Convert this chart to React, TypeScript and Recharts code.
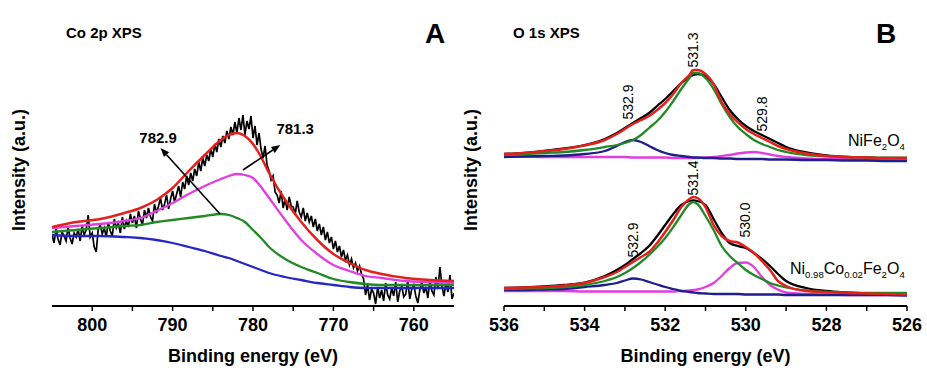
import React from "react";
import { LineChart, Line, XAxis, YAxis, ReferenceLine, ReferenceDot, Label } from "recharts";

const FONT = "'Liberation Sans', Arial, Helvetica, sans-serif";

// ---- Co 2p (panel A) ----
const coFitEnergy = [805, 802, 799, 796, 794, 792, 790, 788, 786, 784, 783, 782, 781, 780, 779, 778, 776, 774, 772, 770, 768, 766, 764, 761, 758, 755];
const coEnvelope = [80, 85, 88, 94, 99, 107, 119, 136, 152, 167, 172, 174, 171, 163, 150, 134, 107, 85, 67, 53, 44, 37, 33, 29, 27, 26];
const coPeak781 = [79, 81, 83, 86, 89, 96, 104, 113, 121, 128, 131, 133, 132, 129, 120, 109, 87, 67, 53, 42, 36, 31, 29, 26, 25, 24];
const coPeak783 = [75, 77, 79, 81, 82, 85, 87, 89, 91, 93, 92, 89, 85, 77, 69, 60, 48, 40, 34, 28, 25, 23, 22, 22, 22, 22];
const coBackground = [72, 71, 71, 70, 69, 67, 64, 60, 56, 51, 49, 46, 43, 40, 37, 34, 30, 27, 24, 22, 20, 19, 19, 19, 19, 19];

// raw spectrum, 805 -> 755 eV every 0.25 eV (one row per eV)
const coRawStart = 805;
const coRawStep = 0.25;
const coRaw = [
  73, 64, 78, 68,
  62, 75, 71, 66,
  80, 69, 63, 74,
  70, 78, 66, 81,
  72, 77, 92, 70,
  74, 60, 55, 78,
  82, 73, 79, 70,
  85, 76, 71, 88,
  79, 84, 74, 90,
  78, 86, 80, 93,
  84, 91, 79, 96,
  88, 82, 97, 89,
  99, 90, 86, 103,
  94, 101, 109, 97,
  103, 112, 98, 108,
  116, 105, 113, 121,
  110, 125, 118, 131,
  122, 134, 126, 138,
  131, 145, 136, 149,
  141, 152, 146, 158,
  150, 163, 155, 168,
  160, 171, 164, 176,
  168, 180, 172, 185,
  174, 189, 177, 192,
  172, 186, 178, 191,
  169, 181, 162, 174,
  158, 149, 161, 142,
  136, 127, 131, 115,
  112, 104, 116, 99,
  108, 97, 110, 101,
  100, 93, 106, 95,
  90, 99, 86, 94,
  85, 91, 80, 88,
  76, 83, 72, 80,
  67, 75, 64, 70,
  58, 66, 55, 61,
  50, 57, 47, 52,
  42, 48, 39, 44,
  36, 41, 33, 28,
  12, 22, 7, 18,
  14, 3, 20, 9,
  17, 6, 24, 12,
  8, 19, 11, 25,
  5, 16, 21, 10,
  13, 26, 8, 18,
  22, 11, 4, 17,
  25, 14, 20, 9,
  27, 16, 12, 30,
  18, 40, 21, 11,
  24, 15, 32, 8,
  14,
];
const coRawEnergy = coRaw.map((_, i) => coRawStart - i * coRawStep);

const coTicks = [800, 795, 790, 785, 780, 775, 770, 765, 760];
const coMajor = [800, 790, 780, 770, 760];

// ---- O 1s (panel B) ----
const oEnergy = [536, 535.5, 535, 534.5, 534, 533.5, 533.2, 533, 532.8, 532.6, 532.4, 532.2, 532, 531.8, 531.6, 531.4, 531.3, 531.2, 531, 530.8, 530.6, 530.4, 530.2, 530, 529.8, 529.6, 529.4, 529.2, 529, 528.5, 528, 527.5, 527, 526.5, 526];

const nfRaw = [153, 154, 156, 158.5, 162, 168, 174, 179, 184, 189, 194, 201, 208, 216, 224, 230, 232, 233, 231, 223, 210, 197, 188, 181, 176, 172, 168, 164, 160, 154.5, 151.5, 150, 149.5, 149, 149];
const nfEnvelope = [153, 154, 156, 158, 161.5, 167, 173, 178, 183, 187, 191, 197, 204, 213, 224, 232, 237, 237, 233, 223, 205, 193, 185, 178, 173, 169, 165, 161, 158, 153.5, 151, 150, 149.5, 149, 149];
const nfPeak531 = [152, 153, 154, 155, 157, 160, 162, 164, 167, 172, 179, 186, 195, 206, 218, 229, 234, 234, 229, 218, 203, 190, 180, 173, 167, 163, 160, 157, 155, 152, 151, 150, 149.5, 149, 149];
const nfPeak533 = [150, 150.5, 151, 151.5, 153, 156, 161, 165, 167, 165, 161, 157, 154, 152, 151, 150, 149.5, 149.5, 149, 149, 148.5, 148.5, 148, 148, 148, 148, 147.5, 147.5, 147.5, 147, 147, 146.5, 146.5, 146, 146];
const nfPeak530 = [150.5, 150.5, 150, 150, 150, 150, 150, 150, 149.5, 149.5, 149.5, 149.5, 149.5, 149, 149, 149, 149, 149, 149.5, 150, 151, 152, 153.5, 154.5, 155, 154, 152.5, 151, 150, 148.5, 148, 148, 148, 148, 148];

const ncRaw = [19, 19.5, 20.5, 22, 24.5, 31, 37, 42, 48, 54, 61, 71, 82, 93, 102, 106, 106.5, 106, 102, 88, 74, 64, 61, 59, 54, 48, 41, 33, 26, 19, 16, 14.5, 13.5, 13, 12.5];
const ncEnvelope = [19, 19.5, 20, 21.5, 24, 30, 35, 40, 45, 50, 55, 64, 75, 87, 100, 108, 110, 109, 100, 82, 71, 66, 64.5, 60, 54, 46, 37, 26, 21, 16, 15, 14, 13.5, 13, 12.5];
const ncPeak531 = [18, 18.5, 19, 20, 22, 26, 30, 34, 39, 45, 52, 60, 69, 80, 92, 103, 105, 103, 91, 77, 61, 51, 44, 37, 32, 28, 24, 21.5, 19.5, 16.5, 15, 14.5, 14, 14, 14];
const ncPeak533 = [17, 17, 17.5, 18, 20, 22, 24, 26.5, 28.5, 27.5, 25, 22.5, 20, 18, 16, 15, 14.5, 14, 13.5, 13, 13, 13, 13, 12.5, 12.5, 12.5, 12.5, 12.5, 12, 12, 12, 12, 12, 12, 11.5];
const ncPeak530 = [16, 16, 16, 16, 15.5, 15.5, 15.5, 15.5, 15.5, 15.5, 15.5, 15.5, 15.5, 15.5, 16, 16.5, 17, 17.5, 20, 24, 31, 39, 44, 44.5, 40, 30, 22, 17.5, 14.5, 13, 12.5, 12, 12, 12, 12];

const oTicks = [536, 535, 534, 533, 532, 531, 530, 529, 528, 527, 526];
const oMajor = [536, 534, 532, 530, 528, 526];

// annotation anchors (energy, intensity)
const coLabels = [
  { text: "782.9", x: 791.8, y: 169.5 },
  { text: "781.3", x: 774.75, y: 178 },
];
const coArrows = [
  [{ x: 784.1, y: 93 }, { x: 791.5, y: 159 }],
  [{ x: 781.25, y: 137 }, { x: 776.6, y: 162 }],
];
const oLabels = [
  { text: "531.3", x: 531.31, y: 257 },
  { text: "532.9", x: 532.92, y: 205 },
  { text: "529.8", x: 529.6, y: 193 },
  { text: "531.4", x: 531.31, y: 129 },
  { text: "532.9", x: 532.8, y: 67 },
  { text: "530.0", x: 530.02, y: 87 },
];

const RED = "#e3211c";
const MAGENTA = "#e23de0";
const GREEN = "#218a25";
const BLUE_A = "#2626c6";
const BLUE_B = "#1e1e8c";

const pts = (xs: number[], ys: number[]) => xs.map((e, i) => ({ e, v: ys[i] }));

const frameLine = { stroke: "#000", strokeWidth: 2 };
const tickFont = { fontFamily: FONT, fontSize: 18, fontWeight: 700, fill: "#000" };

function ArrowShape(props: any) {
  const { x1, y1, x2, y2 } = props;
  if ([x1, y1, x2, y2].some((v) => typeof v !== "number")) return <g />;
  const ang = Math.atan2(y2 - y1, x2 - x1);
  const len = 9;
  const half = 3.5;
  const bx = x2 - len * Math.cos(ang);
  const by = y2 - len * Math.sin(ang);
  const px = -Math.sin(ang) * half;
  const py = Math.cos(ang) * half;
  return (
    <g>
      <line x1={x1} y1={y1} x2={bx} y2={by} stroke="#000" strokeWidth={1.6} />
      <polygon points={`${x2},${y2} ${bx + px},${by + py} ${bx - px},${by - py}`} fill="#000" />
    </g>
  );
}

function series(data: { e: number; v: number }[], color: string, width: number, type: "monotone" | "linear" = "monotone") {
  return (
    <Line
      data={data}
      dataKey="v"
      type={type}
      stroke={color}
      strokeWidth={width}
      dot={false}
      activeDot={false}
      isAnimationActive={false}
    />
  );
}

const Sub = ({ children }: { children: React.ReactNode }) => (
  <span style={{ fontSize: "0.6em", position: "relative", top: "0.38em" }}>{children}</span>
);

function text(style: React.CSSProperties, content: React.ReactNode) {
  return (
    <div style={{ position: "absolute", lineHeight: 1, whiteSpace: "nowrap", fontFamily: FONT, color: "#000", ...style }}>
      {content}
    </div>
  );
}

export default function App() {
  return (
    <div style={{ position: "absolute", left: 0, top: 0, width: 927, height: 372, background: "#fff", overflow: "hidden" }}>
      <div style={{ position: "absolute", left: 0, top: 0 }}>
        <LineChart width={465} height={372} margin={{ top: 9, right: 11, bottom: 0, left: 52 }}>
          <XAxis
            dataKey="e"
            type="number"
            domain={[755, 805]}
            reversed
            allowDataOverflow
            ticks={coTicks}
            interval={0}
            tickFormatter={(v: number) => (coMajor.includes(v) ? String(v) : "")}
            tick={tickFont}
            tickSize={5}
            tickMargin={7}
            tickLine={{ stroke: "#000", strokeWidth: 1.5 }}
            axisLine={frameLine}
            height={66}
          >
            <Label value="Binding energy (eV)" position="insideBottom" offset={10} fontFamily={FONT} fontSize={18} fontWeight={700} fill="#000" />
          </XAxis>
          <XAxis xAxisId="top" orientation="top" type="number" domain={[755, 805]} reversed height={0} tick={false} tickLine={false} axisLine={frameLine} />
          <YAxis type="number" domain={[1, 298]} allowDataOverflow width={0} tick={false} tickLine={false} axisLine={frameLine} />
          <YAxis yAxisId="right" orientation="right" type="number" domain={[1, 298]} width={0} tick={false} tickLine={false} axisLine={frameLine} />
          {series(pts(coRawEnergy, coRaw), "#000", 1.7, "linear")}
          {series(pts(coFitEnergy, coBackground), BLUE_A, 2.3)}
          {series(pts(coFitEnergy, coPeak783), GREEN, 2.3)}
          {series(pts(coFitEnergy, coPeak781), MAGENTA, 2.3)}
          {series(pts(coFitEnergy, coEnvelope), RED, 2.5)}
          {coArrows.map((seg, i) => (
            <ReferenceLine key={`a${i}`} segment={seg} shape={ArrowShape} ifOverflow="visible" />
          ))}
          {coLabels.map((l, i) => (
            <ReferenceDot
              key={`l${i}`}
              x={l.x}
              y={l.y}
              r={0}
              fill="none"
              stroke="none"
              ifOverflow="visible"
              label={{ value: l.text, position: "center", fontFamily: FONT, fontSize: 15, fontWeight: 700, fill: "#000" }}
            />
          ))}
        </LineChart>
      </div>

      <div style={{ position: "absolute", left: 460, top: 0 }}>
        <LineChart width={467} height={372} margin={{ top: 9, right: 20, bottom: 0, left: 44 }}>
          <XAxis
            dataKey="e"
            type="number"
            domain={[526, 536]}
            reversed
            allowDataOverflow
            ticks={oTicks}
            interval={0}
            tickFormatter={(v: number) => (oMajor.includes(v) ? String(v) : "")}
            tick={tickFont}
            tickSize={5}
            tickMargin={7}
            tickLine={{ stroke: "#000", strokeWidth: 1.5 }}
            axisLine={frameLine}
            height={66}
          >
            <Label value="Binding energy (eV)" position="insideBottom" offset={10} fontFamily={FONT} fontSize={18} fontWeight={700} fill="#000" />
          </XAxis>
          <XAxis xAxisId="top" orientation="top" type="number" domain={[526, 536]} reversed height={0} tick={false} tickLine={false} axisLine={frameLine} />
          <YAxis type="number" domain={[1, 298]} allowDataOverflow width={0} tick={false} tickLine={false} axisLine={frameLine} />
          <YAxis yAxisId="right" orientation="right" type="number" domain={[1, 298]} width={0} tick={false} tickLine={false} axisLine={frameLine} />
          {series(pts(oEnergy, nfRaw), "#000", 2.3)}
          {series(pts(oEnergy, nfPeak530), MAGENTA, 2.3)}
          {series(pts(oEnergy, nfPeak533), BLUE_B, 2.3)}
          {series(pts(oEnergy, nfPeak531), GREEN, 2.3)}
          {series(pts(oEnergy, nfEnvelope), RED, 2.5)}
          {series(pts(oEnergy, ncRaw), "#000", 2.3)}
          {series(pts(oEnergy, ncPeak530), MAGENTA, 2.3)}
          {series(pts(oEnergy, ncPeak533), BLUE_B, 2.3)}
          {series(pts(oEnergy, ncPeak531), GREEN, 2.3)}
          {series(pts(oEnergy, ncEnvelope), RED, 2.5)}
          {oLabels.map((l, i) => (
            <ReferenceDot
              key={`o${i}`}
              x={l.x}
              y={l.y}
              r={0}
              fill="none"
              stroke="none"
              ifOverflow="visible"
              label={{ value: l.text, position: "center", angle: -90, fontFamily: FONT, fontSize: 14, fill: "#000" }}
            />
          ))}
        </LineChart>
      </div>

      {text({ left: 66, top: 25, fontSize: 15, fontWeight: 700 }, "Co 2p XPS")}
      {text({ left: 425, top: 20, fontSize: 28, fontWeight: 700 }, "A")}
      {text({ left: 513, top: 25, fontSize: 15, fontWeight: 700 }, "O 1s XPS")}
      {text({ left: 876, top: 20, fontSize: 28, fontWeight: 700 }, "B")}
      {text(
        { left: 19, top: 170, fontSize: 18, fontWeight: 700, transform: "translate(-50%, -50%) rotate(-90deg)" },
        "Intensity (a.u.)"
      )}
      {text(
        { left: 471, top: 170, fontSize: 18, fontWeight: 700, transform: "translate(-50%, -50%) rotate(-90deg)" },
        "Intensity (a.u.)"
      )}
      {text(
        { left: 848, top: 133, fontSize: 16 },
        <>
          NiFe<Sub>2</Sub>O<Sub>4</Sub>
        </>
      )}
      {text(
        { left: 790, top: 261, fontSize: 16 },
        <>
          Ni<Sub>0.98</Sub>Co<Sub>0.02</Sub>Fe<Sub>2</Sub>O<Sub>4</Sub>
        </>
      )}
    </div>
  );
}
